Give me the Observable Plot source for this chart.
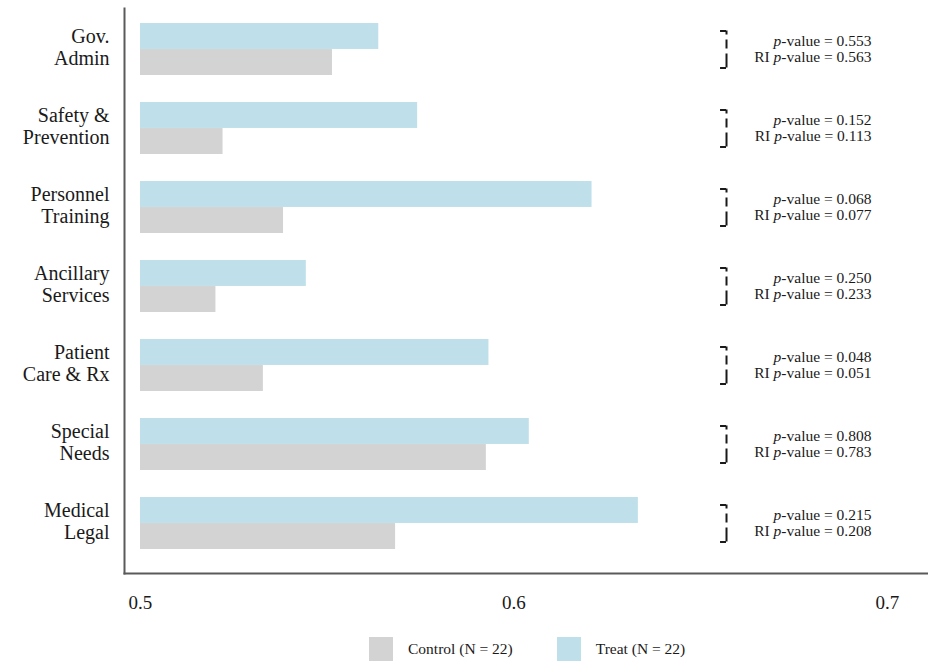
<!DOCTYPE html>
<html>
<head>
<meta charset="utf-8">
<script src="https://cdn.jsdelivr.net/npm/d3@7"></script>
<script src="https://cdn.jsdelivr.net/npm/@observablehq/plot@0.6"></script>
<style>
  body { margin: 0; background: #fff; }
  #chart { width: 928px; }
  .lg-swatches { font-family: "Liberation Serif", serif !important; font-size: 15.5px !important; color: #1a1a1a !important; margin-top: 7px !important; }
  .lg-swatch { margin-right: 44px !important; }
  .lg-swatch > svg { margin-right: 15px !important; }
</style>
</head>
<body>
<div id="chart"></div>
<script>
// Service categories (two-line labels) and mean outcomes per arm
const categories = [
  "Gov.\nAdmin",
  "Safety &\nPrevention",
  "Personnel\nTraining",
  "Ancillary\nServices",
  "Patient\nCare & Rx",
  "Special\nNeeds",
  "Medical\nLegal"
];
const treatMeans   = [0.5638, 0.5742, 0.6209, 0.5444, 0.5933, 0.6041, 0.6333];
const controlMeans = [0.5514, 0.5221, 0.5383, 0.5202, 0.5329, 0.5926, 0.5683];
const pValues   = ["0.553", "0.152", "0.068", "0.250", "0.048", "0.808", "0.215"];
const riPValues = ["0.563", "0.113", "0.077", "0.233", "0.051", "0.783", "0.208"];
const xTicks = [0.5, 0.6, 0.7];
const groups = ["Control (N = 22)", "Treat (N = 22)"];
const groupColors = ["#d3d3d3", "#bfe0ea"];

// Layout
const width = 928, height = 625;
const marginTop = 8, marginBottom = 52, marginLeft = 124, marginRight = 0;
const xDomain = [0.49572, 0.71098];
const baseline = 0.5;
const paddingInner = 0.342, paddingOuter = 0.2405, align = 0.395;
const step = (height - marginTop - marginBottom) / (categories.length - paddingInner + 2 * paddingOuter);
const half = step * (1 - paddingInner) / 2;

// Bracket and annotation positions (x in data units)
const bracketX = 0.6569, hookX = 0.6553, noteX = 0.6957;
const reach = 18.5;

const treatRows = categories.map((c, i) => ({category: c, value: treatMeans[i], group: groups[1]}));
const controlRows = categories.map((c, i) => ({category: c, value: controlMeans[i], group: groups[0]}));
const notes = categories.map((c, i) => ({category: c, p: pValues[i], ri: riPValues[i]}));

const ink = "#1a1a1a";
const lineColor = "#5a5a5a";

const chart = Plot.plot({
  width, height, marginTop, marginBottom, marginLeft, marginRight,
  style: {fontFamily: "'Liberation Serif', serif", background: "#fff", color: ink},
  x: {domain: xDomain},
  y: {domain: categories, paddingInner, paddingOuter, align},
  color: {domain: groups, range: groupColors},
  marks: [
    Plot.frame({anchor: "left", stroke: lineColor, strokeWidth: 2}),
    Plot.frame({anchor: "bottom", stroke: lineColor, strokeWidth: 2}),
    Plot.barX(treatRows, {x1: () => baseline, x2: "value", y: "category", fill: "group", insetBottom: half}),
    Plot.barX(controlRows, {x1: () => baseline, x2: "value", y: "category", fill: "group", insetTop: half}),
    // dashed brackets joining each pair of bars to its test results
    Plot.tickX(categories, {x: () => bracketX, y: d => d, insetTop: half - reach, insetBottom: half - reach,
      stroke: ink, strokeWidth: 2, strokeOpacity: 1, strokeDasharray: "4,5,9,5,100"}),
    Plot.ruleY(categories, {y: d => d, x1: () => hookX, x2: () => bracketX, dy: -reach, stroke: ink, strokeWidth: 2}),
    Plot.ruleY(categories, {y: d => d, x1: () => hookX, x2: () => bracketX, dy: reach, stroke: ink, strokeWidth: 2}),
    Plot.text(notes, {x: () => noteX, y: "category", text: d => `p-value = ${d.p}`, textAnchor: "end",
      dy: -8, fontSize: 15.5, fill: ink}),
    Plot.text(notes, {x: () => noteX, y: "category", text: d => `RI p-value = ${d.ri}`, textAnchor: "end",
      dy: 8, fontSize: 15.5, fill: ink}),
    Plot.axisY({tickSize: 0, tickPadding: 15, fontSize: 20, lineHeight: 1.1, dy: -3, fill: ink, label: null}),
    Plot.axisX({ticks: xTicks, tickSize: 0, tickPadding: 22, fontSize: 19, tickFormat: d => d.toFixed(1), fill: ink, label: null})
  ]
});

// set the statistic's "p" in italics
d3.select(chart).selectAll("text").each(function () {
  const t = this.textContent;
  if (!t.includes("p-value")) return;
  const i = t.indexOf("p-value");
  const el = d3.select(this);
  el.text(null);
  if (i > 0) el.append("tspan").text(t.slice(0, i));
  el.append("tspan").attr("font-style", "italic").text("p");
  el.append("tspan").text(t.slice(i + 1));
});

const legend = Plot.legend({
  color: {domain: groups, range: groupColors},
  legend: "swatches",
  swatchSize: 24,
  marginLeft: 369,
  className: "lg"
});

const root = document.getElementById("chart");
root.append(chart);
root.append(legend);
</script>
</body>
</html>
